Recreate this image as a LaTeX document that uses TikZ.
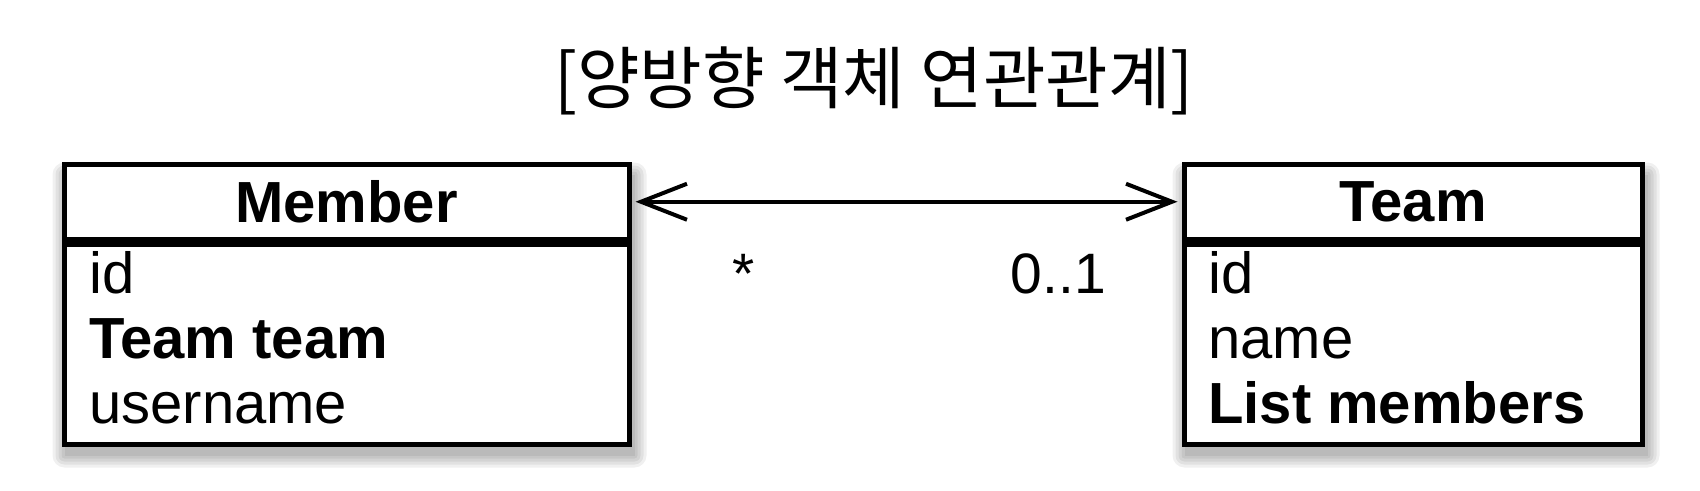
\documentclass[tikz,border=0pt]{standalone}
\usepackage{fontspec}
\setmainfont{Liberation Sans}
\newfontfamily\krfont{Noto Sans CJK KR}
\usetikzlibrary{arrows.meta,backgrounds,calc}
\tikzset{
  umlbox/.style={draw=black, fill=white, line width=5pt, anchor=north west, inner sep=0pt},
  attr/.style={anchor=base west, inner sep=0pt, font=\fontsize{58}{60}\selectfont},
  hdr/.style={inner sep=0pt, font=\fontsize{58}{60}\selectfont\bfseries},
  lbl/.style={anchor=base, inner sep=0pt, font=\fontsize{57}{60}\selectfont},
  assoc/.style={line width=3.8pt, {Straight Barb[length=46pt,width=36pt,line width=4pt]}-{Straight Barb[length=46pt,width=36pt,line width=4pt]}, shorten <=4pt, shorten >=4pt},
  shadowpiece/.style={fill=black, opacity=0.06}
}
\begin{document}
\begin{tikzpicture}[x=1pt,y=-1pt]
\useasboundingbox (0,0) rectangle (1700,490);
% title
\node[inner sep=0pt, font=\krfont\fontsize{68}{72}\selectfont] (title) at (874,81) {[양방향 객체 연관관계]};
% Member class
\node[umlbox, minimum width=565pt, minimum height=75.5pt] (mhead) at (61.5,161.5) {};
\node[umlbox, minimum width=565pt, minimum height=199.5pt] (mbody) at (mhead.south west) {};
\node[hdr] (mname) at (mhead.center) {Member};
\node[attr] (m1) at (89,293) {id};
\node[attr, font=\fontsize{58}{60}\selectfont\bfseries] (m2) at (89,358) {Team team};
\node[attr] (m3) at (89,423) {username};
% Team class
\node[umlbox, minimum width=458pt, minimum height=75.5pt] (thead) at (1181.5,161.5) {};
\node[umlbox, minimum width=458pt, minimum height=199.5pt] (tbody) at (thead.south west) {};
\node[hdr] (tname) at (thead.center) {Team};
\node[attr] (t1) at (1208,293) {id};
\node[attr] (t2) at (1208,358) {name};
\node[attr, font=\fontsize{58}{60}\selectfont\bfseries] (t3) at (1208,423) {List members};
% background and shadows
\begin{scope}[on background layer]
\fill[white] (0,0) rectangle (1700,490);
\foreach \b in {0,3,6,9,12}{
  \fill[shadowpiece, rounded corners=\b pt] ($(mhead.north west)+(3-\b,13-\b)$) rectangle ($(mbody.south east)+(3+\b,9+\b)$);
  \fill[shadowpiece, rounded corners=\b pt] ($(thead.north west)+(3-\b,13-\b)$) rectangle ($(tbody.south east)+(3+\b,9+\b)$);
}
\end{scope}
% association
\draw[assoc] (mhead.east) -- (thead.west);
\node[lbl] (mult1) at (744,293) {*};
\node[lbl, anchor=base east] (mult2) at (1106,293) {0..1};
\end{tikzpicture}
\end{document}
